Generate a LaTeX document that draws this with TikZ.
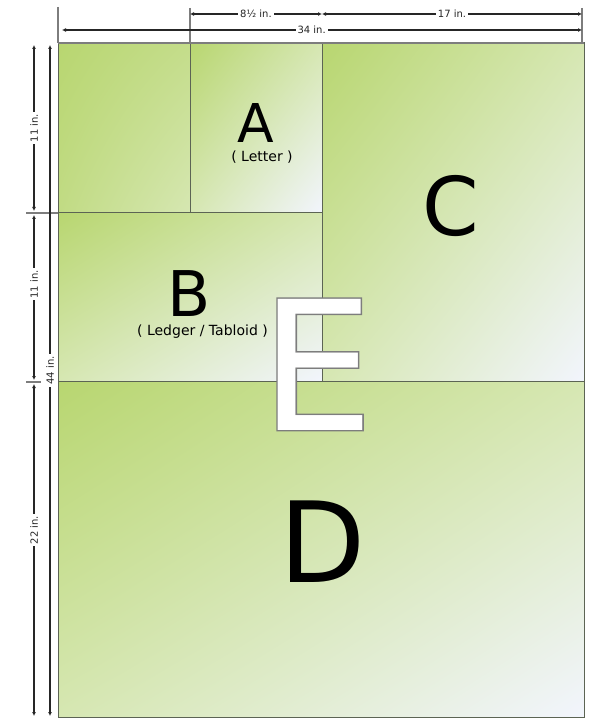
\documentclass[tikz,border=0pt]{standalone}
\usepackage{fontspec}
\setmainfont{DejaVu Sans}
\newfontfamily\rimfont[FakeBold=1.6]{DejaVu Sans}
\usetikzlibrary{arrows.meta, calc, shadings}
\definecolor{leafgreen}{RGB}{184,214,112}
\definecolor{midgreen}{RGB}{214,231,178}
\definecolor{paleblue}{RGB}{242,245,253}
\definecolor{edgegray}{RGB}{92,100,84}
\definecolor{rulegray}{RGB}{125,125,125}

\begin{document}
\begin{tikzpicture}[x=1pt, y=-1pt,
  sheet/.style={upper left=leafgreen, upper right=midgreen, lower left=midgreen, lower right=paleblue},
  blank/.style={upper left=leafgreen, upper right=leafgreen!60!midgreen, lower left=leafgreen!70!midgreen, lower right=midgreen},
  border/.style={draw=edgegray, line width=1pt},
  extline/.style={rulegray, line width=2pt},
  dimline/.style={{Latex[length=4pt,width=4pt]}-{Latex[length=4pt,width=4pt]}, line width=1.6pt, black!85},
  dimlabel/.style={fill=white, inner sep=2pt, font=\fontsize{10}{12}\selectfont},
  bigletter/.style={anchor=base, inner sep=0pt},
  sizename/.style={anchor=base, inner sep=0pt, font=\fontsize{14}{16}\selectfont}
]
\useasboundingbox (0,0) rectangle (591,719);

% corners of the sheets
\coordinate (nw) at (58,43);
\coordinate (se) at (584,717);
\coordinate (a1) at (190,43);
\coordinate (a2) at (322,213);
\coordinate (b1) at (58,213);
\coordinate (c1) at (322,43);
\coordinate (c2) at (584,381);
\coordinate (d1) at (58,381);

% shaded sheets
\shade[blank] (nw) rectangle (190,213);
\shade[sheet] (a1) rectangle (a2);
\shade[sheet] (b1) rectangle (322,381);
\shade[sheet] (c1) rectangle (c2);
\shade[sheet] (d1) rectangle (se);

\draw[border] (nw) rectangle (se);
\draw[border] (a1) -- (190,213);
\draw[border] (b1) -- (a2);
\draw[border] (c1) -- (322,381);
\draw[border] (d1) -- (c2);
\draw[extline] (nw) -- (584,43);

% letters
\node[bigletter, font=\fontsize{53.5}{60}\selectfont] (A) at (255.5,142.3) {A};
\node[sizename] (letter) at (262,161.7) {( Letter )};
\node[bigletter, font=\fontsize{63}{70}\selectfont] (B) at (189,316) {B};
\node[sizename] (ledger) at (202.5,335) {( Ledger / Tabloid )};
\node[bigletter, font=\fontsize{81}{90}\selectfont] (C) at (451,236) {C};
\node[bigletter, font=\fontsize{112}{120}\selectfont] (D) at (323,582) {D};
% E: gray rim under a white face
\node[bigletter, text=rulegray, font=\rimfont\fontsize{180}{190}\selectfont] (E) at (317,430) {E};
\node[bigletter, text=white, font=\fontsize{180}{190}\selectfont] (Eface) at (E.base) {E};

% extension lines
\coordinate (x0) at (58,7);
\coordinate (x1) at (190,8);
\coordinate (x2) at (582,8);
\draw[extline] (x0) -- (nw);
\draw[extline] (x1) -- (a1);
\draw[extline] (x2) -- (582,43);
\draw[extline] (26,213) -- (b1);
\draw[extline] (26,382) -- (41,382);

% width dimensions
\coordinate (w0) at (190,14);
\coordinate (w1) at (322,14);
\coordinate (w2) at (582,14);
\draw[dimline, line width=2pt] (w0) -- node[dimlabel] (wa) {8½ in.} (w1);
\draw[dimline, line width=2pt] (w1) -- node[dimlabel] (wc) {17 in.} (w2);
\draw[dimline] (62,30) -- node[dimlabel, pos=0.48] (wd) {34 in.} (582,30);

% height dimensions
\coordinate (h0) at (34,45);
\coordinate (h1) at (34,211);
\coordinate (h2) at (34,215);
\coordinate (h3) at (34,380);
\coordinate (h4) at (34,384);
\coordinate (h5) at (34,716);
\draw[dimline, line width=2pt] (h0) -- node[dimlabel, rotate=90] (ha) {11 in.} (h1);
\draw[dimline, line width=2pt] (h2) -- node[dimlabel, rotate=90, pos=0.42] (hb) {11 in.} (h3);
\draw[dimline, line width=2pt] (h4) -- node[dimlabel, rotate=90, pos=0.44] (hd) {22 in.} (h5);
\draw[dimline] (50,45) -- node[dimlabel, rotate=90, pos=0.485] (htot) {44 in.} (50,716);
\end{tikzpicture}
\end{document}
